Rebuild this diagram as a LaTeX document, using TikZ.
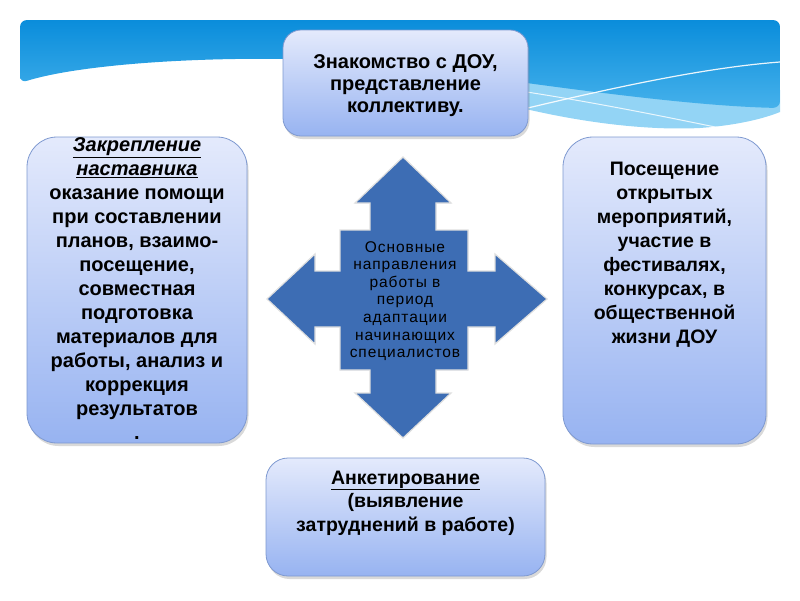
\documentclass[tikz,border=0pt]{standalone}
\usepackage{fontspec}
\setmainfont{Liberation Sans}
\usetikzlibrary{shadows}
\definecolor{boxtop}{HTML}{E4EAFC}
\definecolor{boxbot}{HTML}{97B3F1}
\definecolor{boxline}{HTML}{7E99D0}
\definecolor{arrowblue}{HTML}{3D6DB4}
\definecolor{bannertop}{HTML}{0A8DDB}
\definecolor{bannerbot}{HTML}{45B1EB}
\definecolor{bandlight}{HTML}{93D4F5}
\begin{document}
\begin{tikzpicture}[x=1pt,y=-1pt,
  panel/.style={draw=boxline, line width=0.8pt, top color=boxtop, bottom color=boxbot,
    drop shadow={shadow xshift=1.5pt, shadow yshift=-3pt, opacity=0.3}, inner sep=0pt},
  paneltext/.style={align=center, font=\bfseries\fontsize{19.5}{24}\selectfont, inner sep=0pt, text=black},
  centertext/.style={align=center, font=\addfontfeature{LetterSpace=6}\fontsize{15.5}{17.6}\selectfont, inner sep=0pt, text=black}]
\useasboundingbox (0,0) rectangle (800,600);
% banner
\fill[bandlight] (380,62) .. controls (500,112) and (620,132) .. (700,128) .. controls (740,125) and (765,118) .. (780,112) -- (780,90) -- cycle;
\shade[top color=bannertop, bottom color=bannerbot, rounded corners=7] (20,83) -- (20,20) -- (780,20) -- (780,108) .. controls (690,106) and (560,88) .. (420,68) .. controls (300,52) and (100,58) .. (20,83) -- cycle;
\draw[white, line width=1pt, opacity=0.8] (250,68) .. controls (420,70) and (560,95) .. (720,128);
\draw[white, line width=1.2pt, opacity=0.9] (470,122) .. controls (600,90) and (700,68) .. (780,62);
% quad arrow
\fill[arrowblue, draw=gray!25, line width=1.2pt]
  (403,157) -- (451,203) -- (436,203) -- (436,230) -- (468,230) -- (468,271) -- (495,271) -- (495,254)
  -- (547,299) -- (495,344) -- (495,327) -- (468,327) -- (468,370) -- (436,370) -- (436,393) -- (451,393)
  -- (403,438) -- (355,393) -- (370,393) -- (370,370) -- (340,370) -- (340,327) -- (315,327) -- (315,344)
  -- (267,299) -- (315,254) -- (315,271) -- (340,271) -- (340,230) -- (370,230) -- (370,203) -- (355,203) -- cycle;
\node[centertext] (centre) at (405,301) {Основные\\направления\\работы в\\период\\адаптации\\начинающих\\специалистов};
% boxes
\node[panel, rounded corners=18, minimum width=245, minimum height=106] (topbox) at (405.5,83) {};
\node[paneltext, font=\bfseries\fontsize{20}{22}\selectfont] (toptext) at (405.5,86) {Знакомство с ДОУ,\\представление\\коллективу.};
\node[panel, rounded corners=30, minimum width=220, minimum height=306] (leftbox) at (137,290) {};
\node[paneltext, font=\bfseries\fontsize{20}{24}\selectfont] (lefttext) at (137,289) {\underline{\itshape Закрепление}\\\underline{\itshape наставника}\\оказание помощи\\при составлении\\планов, взаимо-\\посещение,\\совместная\\подготовка\\материалов для\\работы, анализ и\\коррекция\\результатов\\.};
\node[panel, rounded corners=30, minimum width=203, minimum height=307] (rightbox) at (664.5,290.5) {};
\node[paneltext] (righttext) at (664.5,255) {Посещение\\открытых\\мероприятий,\\участие в\\фестивалях,\\конкурсах, в\\общественной\\жизни ДОУ};
\node[panel, rounded corners=22, minimum width=279, minimum height=118] (bottombox) at (405.5,517) {};
\node[paneltext, font=\bfseries\fontsize{19.5}{23.5}\selectfont] (bottomtext) at (405.5,503) {\underline{Анкетирование}\\(выявление\\затруднений в работе)};
\end{tikzpicture}
\end{document}
